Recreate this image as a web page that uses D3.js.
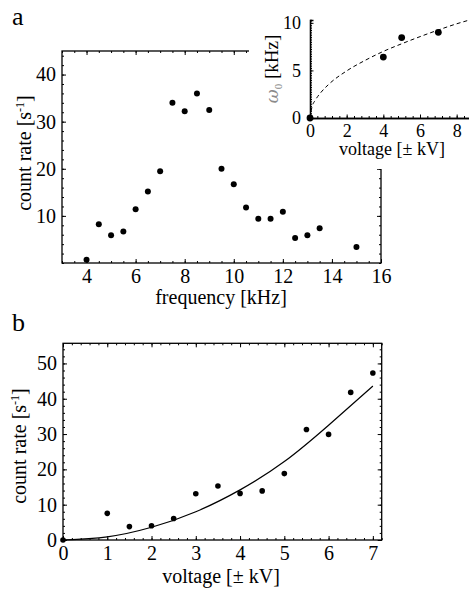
<!DOCTYPE html>
<html>
<head>
<meta charset="utf-8">
<script src="https://cdn.jsdelivr.net/npm/d3@7"></script>
<style>
  body { margin: 0; background: #fff; }
  svg { display: block; }
  text { font-family: "Liberation Serif", "DejaVu Serif", serif; fill: #000; }
</style>
</head>
<body>
<div id="chart"></div>
<script>
// panel a: resonance scan
const freqKHz = [4, 4.5, 5, 5.5, 6, 6.5, 7, 7.5, 8, 8.5, 9, 9.5, 10, 10.5, 11, 11.5, 12, 12.5, 13, 13.5, 15];
const rateA   = [0.7, 8.2, 5.9, 6.7, 11.4, 15.2, 19.5, 34.0, 32.2, 36.0, 32.5, 20.0, 16.7, 11.8, 9.4, 9.4, 10.9, 5.3, 5.9, 7.4, 3.4];
const aXTicks = [4, 6, 8, 10, 12, 14, 16];
const aYTicks = [10, 20, 30, 40];

// inset: resonance frequency vs voltage
const insetV = [0, 4, 5, 7];
const insetW = [0, 6.4, 8.45, 9.0];
const insetFitV = [0, 0.1, 0.3, 0.6, 1, 2, 3, 4, 5, 6, 7, 8, 8.7];
const insetFitW = [0, 1.1, 1.9, 2.7, 3.5, 4.95, 6.05, 7.0, 7.8, 8.55, 9.25, 9.9, 10.3];
const insetXTicks = [0, 2, 4, 6, 8];
const insetYTicks = [0, 5, 10];

// panel b: count rate vs voltage
const voltB = [0, 1, 1.5, 2, 2.5, 3, 3.5, 4, 4.5, 5, 5.5, 6, 6.5, 7];
const rateB = [0, 7.55, 3.8, 4.05, 6.1, 13.1, 15.3, 13.2, 13.9, 18.8, 31.3, 29.9, 41.8, 47.3];
const fitV  = [0, 1, 2, 3, 4, 5, 6, 7];
const fitB  = [0, 0.9, 3.6, 8.0, 14.2, 22.2, 32.5, 43.6];
const bXTicks = [0, 1, 2, 3, 4, 5, 6, 7];
const bYTicks = [0, 10, 20, 30, 40, 50];

const W = 469, H = 591;
const serif = '"Liberation Serif", "DejaVu Serif", serif';
const svg = d3.select("#chart").append("svg").attr("width", W).attr("height", H);

// framed plot, ticks pointing in on all four sides
function framedAxes(g, x, y, xt, yt, xMinor, yMinor, fs) {
  const [x0, x1] = x.range(), [y0, y1] = y.range();
  const sides = [
    [d3.axisBottom, x, `translate(0,${y0})`, xt, xMinor, true],
    [d3.axisTop,    x, `translate(0,${y1})`, xt, xMinor, false],
    [d3.axisLeft,   y, `translate(${x0},0)`, yt, yMinor, true],
    [d3.axisRight,  y, `translate(${x1},0)`, yt, yMinor, false]
  ];
  sides.forEach(([mk, sc, tr, major, minor, lab]) => {
    const gm = g.append("g").attr("transform", tr)
      .call(mk(sc).tickValues(minor).tickSize(-2).tickFormat(""));
    gm.select(".domain").remove();
    const gM = g.append("g").attr("transform", tr).attr("font-family", serif)
      .call(mk(sc).tickValues(major).tickSize(-4).tickPadding(lab ? 6 : 0).tickFormat(lab ? d3.format("d") : ""));
    gM.attr("font-family", serif);
    gM.select(".domain").remove();
    gM.selectAll("text").style("font-size", fs + "px").style("font-family", serif);
  });
  g.selectAll(".tick line").attr("stroke", "#000").attr("stroke-width", 1);
  g.append("rect")
    .attr("x", x0).attr("y", y1).attr("width", x1 - x0).attr("height", y0 - y1)
    .attr("fill", "none").attr("stroke", "#000").attr("stroke-width", 1.3);
}

// ---- panel a
const xa = d3.scaleLinear().domain([3, 16]).range([62, 381]);
const ya = d3.scaleLinear().domain([0, 45]).range([263, 51]);
const ga = svg.append("g");
framedAxes(ga, xa, ya, aXTicks, aYTicks, d3.range(3, 16.01, 0.5), d3.range(0, 45.01, 2), 20);
ga.selectAll(".dot").data(freqKHz).enter().append("circle")
  .attr("cx", d => xa(d)).attr("cy", (d, i) => ya(rateA[i])).attr("r", 3);

svg.append("text").attr("x", 12).attr("y", 25).style("font-size", "26px").text("a");
svg.append("text").attr("x", 221).attr("y", 304).attr("text-anchor", "middle")
  .style("font-size", "20px").text("frequency [kHz]");
const la = svg.append("text").attr("transform", "translate(31,153) rotate(-90)")
  .attr("text-anchor", "middle").style("font-size", "20px");
la.append("tspan").text("count rate [s");
la.append("tspan").attr("dy", -7).style("font-size", "12px").text("-1");
la.append("tspan").attr("dy", 7).text("]");

// ---- inset
svg.append("rect").attr("x", 249).attr("y", 0).attr("width", W - 249).attr("height", 169).attr("fill", "#fff");
const xi = d3.scaleLinear().domain([0, 8.7]).range([310, 469.5]);
const yi = d3.scaleLinear().domain([0, 10.3]).range([118, 20]);
const gi = svg.append("g");
const gix = gi.append("g").attr("transform", "translate(0,118)");
gix.call(d3.axisBottom(xi).tickValues(d3.range(0, 8.71, 0.4)).tickSize(-2).tickFormat(""));
gix.append("g").call(d3.axisBottom(xi).tickValues(insetXTicks).tickSize(-3.5).tickPadding(6));
const giy = gi.append("g").attr("transform", "translate(310,0)");
giy.call(d3.axisLeft(yi).tickValues(d3.range(0, 10.31, 0.25)).tickSize(-2).tickFormat(""));
giy.append("g").call(d3.axisLeft(yi).tickValues(insetYTicks).tickSize(-3.5).tickPadding(9));
gi.selectAll("g").attr("font-family", serif);
gi.selectAll(".domain").attr("stroke", "#000").attr("stroke-width", 1.3);
gi.selectAll("text").style("font-size", "18px").style("font-family", serif);
gi.selectAll(".tick line").attr("stroke", "#000");

gi.append("path")
  .datum(insetFitV.map((v, i) => [v, insetFitW[i]]))
  .attr("d", d3.line().x(d => xi(d[0])).y(d => yi(d[1])).curve(d3.curveMonotoneX))
  .attr("fill", "none").attr("stroke", "#000").attr("stroke-width", 1)
  .attr("stroke-dasharray", "4,3");
gi.selectAll(".idot").data(insetV).enter().append("circle")
  .attr("cx", d => xi(d)).attr("cy", (d, i) => yi(insetW[i])).attr("r", 3.4);

svg.append("text").attr("x", 392).attr("y", 155).attr("text-anchor", "middle")
  .style("font-size", "18px").text("voltage [± kV]");
const li = svg.append("text").attr("transform", "translate(278,69) rotate(-90)")
  .attr("text-anchor", "middle").style("font-size", "19px");
li.append("tspan").style("fill", "#8a8a8a").style("font-family", '"DejaVu Serif", serif')
  .style("font-style", "italic").style("font-size", "17px").text("ω");
li.append("tspan").attr("dy", 4).style("fill", "#8a8a8a").style("font-size", "11px").text("0");
li.append("tspan").attr("dy", -4).text(" [kHz]");

// ---- panel b
const xb = d3.scaleLinear().domain([0, 7.2]).range([63, 381.7]);
const yb = d3.scaleLinear().domain([0, 55.7]).range([540, 343.3]);
const gb = svg.append("g");
framedAxes(gb, xb, yb, bXTicks, bYTicks, d3.range(0, 7.21, 0.2), d3.range(0, 55.7, 2), 20);
gb.append("path")
  .datum(fitV.map((v, i) => [v, fitB[i]]))
  .attr("d", d3.line().x(d => xb(d[0])).y(d => yb(d[1])).curve(d3.curveNatural))
  .attr("fill", "none").attr("stroke", "#000").attr("stroke-width", 1.2);
gb.selectAll(".bdot").data(voltB).enter().append("circle")
  .attr("cx", d => xb(d)).attr("cy", (d, i) => yb(rateB[i])).attr("r", 2.8);

svg.append("text").attr("x", 12).attr("y", 331).style("font-size", "26px").text("b");
svg.append("text").attr("x", 221).attr("y", 583).attr("text-anchor", "middle")
  .style("font-size", "20px").text("voltage [± kV]");
const lb = svg.append("text").attr("transform", "translate(26,446) rotate(-90)")
  .attr("text-anchor", "middle").style("font-size", "20px");
lb.append("tspan").text("count rate [s");
lb.append("tspan").attr("dy", -7).style("font-size", "12px").text("-1");
lb.append("tspan").attr("dy", 7).text("]");
</script>
</body>
</html>
